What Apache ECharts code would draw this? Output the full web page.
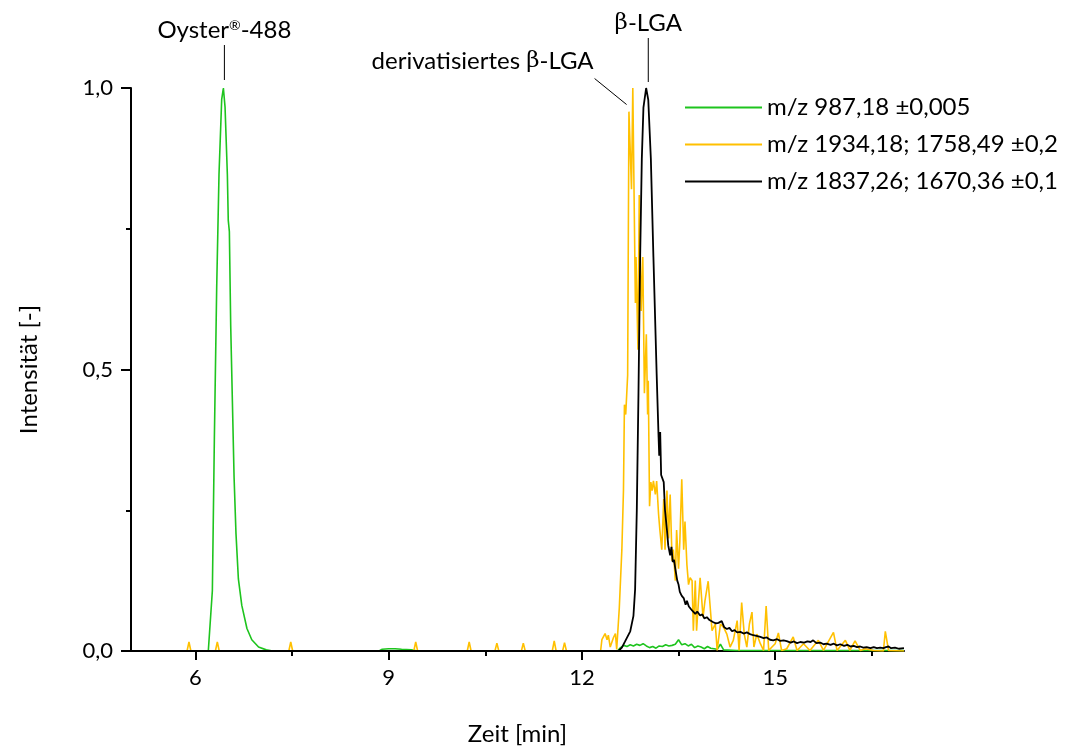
<!DOCTYPE html>
<html>
<head>
<meta charset="utf-8">
<script src="https://cdn.jsdelivr.net/npm/echarts@6/dist/echarts.min.js"></script>
<style>html,body{margin:0;padding:0;background:#fff}#c{width:1065px;height:751px}</style>
</head>
<body>
<div id="c"></div>
<script>
var seriesNames = ['m/z 987,18 \u00b10,005', 'm/z 1934,18; 1758,49 \u00b10,2', 'm/z 1837,26; 1670,36 \u00b10,1'];
var xMajorTicks = [6, 9, 12, 15];
var xMinorTicks = [7.5, 10.5, 13.5, 16.5];

var greenData = [
  [5,0],[6.2,0],[6.263,0.107],[6.294,0.376],[6.33,0.644],[6.366,0.846],[6.408,0.98],[6.434,1.0],
  [6.46,0.966],[6.496,0.846],[6.51,0.765],[6.527,0.745],[6.548,0.577],[6.574,0.443],[6.60,0.309],
  [6.63,0.208],[6.667,0.128],[6.72,0.081],[6.80,0.04],[6.875,0.02],[6.98,0.007],[7.1,0.002],[7.2,0],
  [8.85,0],[8.9,0.003],[9.0,0.004],[9.1,0.004],[9.2,0.003],[9.35,0.002],[9.45,0],
  [12.55,0],[12.6,0.006],[12.65,0.01],[12.7,0.008],[12.75,0.011],[12.8,0.009],[12.85,0.012],[12.9,0.01],
  [12.95,0.013],[13.0,0.009],[13.05,0.006],[13.1,0.008],[13.15,0.005],[13.2,0.009],[13.25,0.008],
  [13.3,0.011],[13.35,0.009],[13.4,0.01],[13.45,0.012],[13.5,0.02],[13.55,0.011],[13.6,0.013],
  [13.65,0.009],[13.7,0.012],[13.75,0.006],[13.8,0.009],[13.85,0.007],[13.9,0.004],[13.95,0.008],
  [14.0,0.005],[14.1,0.003],[14.15,0.012],[14.2,0.002],[14.4,0.001],[17,0.001]
];

var yellowData = [
  [5,0],[5.87,0],[5.9,0.016],[5.93,0],[6.31,0],[6.34,0.016],[6.37,0],[7.45,0],[7.48,0.016],[7.51,0],
  [9.39,0],[9.42,0.016],[9.45,0],[10.22,0],[10.25,0.016],[10.28,0],[10.65,0],[10.68,0.014],[10.71,0],
  [11.06,0],[11.09,0.014],[11.12,0],[11.54,0],[11.57,0.018],[11.6,0],[11.7,0],[11.73,0.015],[11.76,0],
  [12.29,0],[12.31,0.02],[12.36,0.031],[12.39,0.02],[12.41,0.028],[12.44,0.007],[12.49,0.024],
  [12.52,0.031],[12.54,0.003],[12.58,0.076],[12.62,0.18],[12.645,0.285],[12.66,0.4375],[12.68,0.42],
  [12.70,0.42],[12.71,0.49],[12.73,0.958],[12.75,0.96],[12.77,0.82],[12.79,1.0],[12.81,1.0],
  [12.83,0.618],[12.84,0.70],[12.87,0.535],[12.89,0.81],[12.92,0.604],[12.945,0.70],[12.97,0.458],
  [13.00,0.5625],[13.02,0.42],[13.03,0.48],[13.05,0.257],[13.07,0.30],[13.09,0.285],[13.11,0.302],
  [13.14,0.278],[13.16,0.302],[13.19,0.243],[13.21,0.215],[13.24,0.18],[13.27,0.27],[13.29,0.18],
  [13.32,0.285],[13.345,0.20],[13.37,0.278],[13.40,0.16],[13.42,0.18],[13.45,0.125],[13.47,0.215],
  [13.50,0.146],[13.52,0.194],[13.55,0.305],[13.58,0.18],[13.60,0.23],[13.63,0.153],[13.655,0.118],
  [13.68,0.13],[13.71,0.125],[13.73,0.036],[13.76,0.125],[13.78,0.036],[13.81,0.09],[13.835,0.13],
  [13.88,0.06],[13.91,0.089],[13.96,0.124],[14.02,0.036],[14.07,0.048],[14.10,0.001],[14.15,0.048],
  [14.20,0.042],[14.25,0.03],[14.30,0.007],[14.35,0.019],[14.41,0.054],[14.44,0.001],[14.48,0.086],
  [14.52,0.03],[14.56,0.007],[14.60,0.048],[14.64,0.069],[14.67,0.007],[14.715,0.03],[14.77,0.013],
  [14.82,0.001],[14.86,0.08],[14.90,0.001],[14.95,0.007],[15.00,0.013],[15.05,0.032],[15.10,0.001],
  [15.18,0.004],[15.28,0.025],[15.34,0.001],[15.44,0.013],[15.54,0.001],[15.67,0.019],[15.75,0.001],
  [15.905,0.033],[15.96,0.001],[16.09,0.019],[16.16,0.001],[16.24,0.018],[16.32,0.001],[16.40,0.004],
  [16.53,0.001],[16.68,0],[16.71,0.035],[16.76,0.001],[17,0]
];

var blackData = [
  [5,0],[12.567,0],[12.62,0.006],[12.67,0.017],[12.75,0.035],[12.80,0.0625],[12.826,0.11],[12.852,0.25],
  [12.878,0.458],[12.904,0.70],[12.93,0.875],[12.955,0.965],[12.997,1.0],[13.03,0.979],[13.07,0.875],
  [13.11,0.70],[13.16,0.493],[13.19,0.38],[13.20,0.347],[13.215,0.389],[13.23,0.3125],[13.27,0.30],
  [13.29,0.25],[13.32,0.215],[13.34,0.1875],[13.37,0.17],[13.39,0.185],[13.41,0.158],[13.43,0.162],
  [13.45,0.146],[13.48,0.125],[13.50,0.118],[13.52,0.105],[13.55,0.098],[13.58,0.094],[13.61,0.082],
  [13.63,0.089],[13.66,0.079],[13.68,0.077],[13.71,0.072],[13.73,0.069],[13.76,0.066],[13.79,0.070],
  [13.835,0.063],[13.87,0.065],[13.90,0.058],[13.94,0.060],[13.98,0.055],[14.01,0.057],[14.04,0.051],
  [14.08,0.049],[14.12,0.050],[14.17,0.053],[14.21,0.042],[14.25,0.039],[14.29,0.041],[14.33,0.035],
  [14.37,0.037],[14.41,0.033],[14.46,0.034],[14.51,0.031],[14.56,0.033],[14.61,0.030],[14.66,0.028],
  [14.71,0.027],[14.77,0.025],[14.82,0.023],[14.87,0.024],[14.92,0.020],[14.97,0.019],[15.03,0.021],
  [15.08,0.018],[15.13,0.019],[15.18,0.0176],[15.24,0.015],[15.29,0.017],[15.34,0.014],[15.39,0.016],
  [15.45,0.015],[15.50,0.017],[15.55,0.016],[15.59,0.019],[15.64,0.014],[15.70,0.015],[15.75,0.012],
  [15.80,0.013],[15.86,0.011],[15.91,0.013],[15.96,0.010],[16.01,0.012],[16.07,0.009],[16.12,0.011],
  [16.17,0.008],[16.22,0.009],[16.27,0.007],[16.32,0.008],[16.37,0.006],[16.42,0.007],[16.48,0.005],
  [16.53,0.007],[16.58,0.005],[16.63,0.006],[16.68,0.005],[16.72,0.007],[16.76,0.008],[16.80,0.005],
  [16.86,0.006],[16.92,0.004],[17,0.005]
];

var FONT = 'Lato';
var chart = echarts.init(document.getElementById('c'), null, {renderer: 'canvas'});

var GRID = {left: 131, top: 88, width: 773, height: 569};

var option = {
  backgroundColor: '#ffffff',
  animation: false,
  textStyle: {fontFamily: FONT},
  grid: GRID,
  legend: {
    orient: 'vertical',
    left: 680, top: 89,
    itemWidth: 77, itemHeight: 2, itemGap: 10,
    icon: 'rect',
    textStyle: {fontFamily: FONT, fontSize: 24, color: '#000', lineHeight: 27},
    data: seriesNames
  },
  xAxis: [{
    type: 'value', min: 5, max: 17,
    name: 'Zeit [min]', nameLocation: 'middle', nameGap: 71,
    nameTextStyle: {fontFamily: FONT, fontSize: 24, color: '#000'},
    axisLine: {show: true, onZero: false, lineStyle: {color: '#000', width: 2}},
    axisTick: {show: true, length: 9, lineStyle: {color: '#000', width: 2}, customValues: xMajorTicks},
    axisLabel: {fontFamily: FONT, fontSize: 22, color: '#000', margin: 16, customValues: xMajorTicks},
    splitLine: {show: false}
  }, {
    type: 'value', min: 5, max: 17, position: 'bottom',
    axisLine: {show: false},
    axisTick: {show: true, length: 5, lineStyle: {color: '#000', width: 2}, customValues: xMinorTicks},
    axisLabel: {show: false},
    splitLine: {show: false}
  }],
  yAxis: {
    type: 'value', min: 0, max: 1, interval: 0.5,
    name: 'Intensit\u00e4t [-]', nameLocation: 'middle', nameGap: 90,
    nameTextStyle: {fontFamily: FONT, fontSize: 24, color: '#000'},
    axisLine: {show: true, lineStyle: {color: '#000', width: 2}},
    axisTick: {show: true, length: 10, lineStyle: {color: '#000', width: 2}},
    minorTick: {show: true, splitNumber: 2, length: 5, lineStyle: {color: '#000', width: 2}},
    axisLabel: {fontFamily: FONT, fontSize: 22, color: '#000', margin: 18,
      formatter: function (v) { return v.toFixed(1).replace('.', ','); }},
    splitLine: {show: false}
  },
  series: [
    {name: seriesNames[0], type: 'line', data: greenData, showSymbol: false, symbol: 'none',
     lineStyle: {color: '#1ec41e', width: 1.6}, itemStyle: {color: '#1ec41e'}, z: 2},
    {name: seriesNames[1], type: 'line', data: yellowData, showSymbol: false, symbol: 'none',
     lineStyle: {color: '#ffc000', width: 1.6}, itemStyle: {color: '#ffc000'}, z: 3},
    {name: seriesNames[2], type: 'line', data: blackData, showSymbol: false, symbol: 'none',
     lineStyle: {color: '#000000', width: 1.8}, itemStyle: {color: '#000000'}, z: 4}
  ]
};
chart.setOption(option);

// annotations anchored to peak positions
var pOy = chart.convertToPixel({xAxisIndex: 0, yAxisIndex: 0}, [6.45, 1.0]);
var pB = chart.convertToPixel({xAxisIndex: 0, yAxisIndex: 0}, [13.03, 1.0]);
var pD = chart.convertToPixel({xAxisIndex: 0, yAxisIndex: 0}, [12.74, 0.96]);
var rich = {
  b: {fontFamily: 'DejaVu Serif', fontSize: 23, fill: '#000'},
  t: {fontFamily: FONT, fontSize: 24, fill: '#000'},
  r: {fontFamily: FONT, fontSize: 14, fill: '#000', verticalAlign: 'top', padding: [0, 0, 8, 0]}
};
chart.setOption({
  graphic: [
    {type: 'line', shape: {x1: pOy[0], y1: pOy[1] - 8, x2: pOy[0], y2: pOy[1] - 43}, style: {stroke: '#000', lineWidth: 1}},
    {type: 'text', x: pOy[0], y: pOy[1] - 58, style: {text: '{t|Oyster}{r|\u00ae}{t|-488}', rich: rich, align: 'center', verticalAlign: 'middle'}},
    {type: 'line', shape: {x1: pB[0], y1: pB[1] - 6, x2: pB[0], y2: pB[1] - 50}, style: {stroke: '#000', lineWidth: 1}},
    {type: 'text', x: pB[0], y: pB[1] - 65, style: {text: '{b|\u03b2}{t|-LGA}', rich: rich, align: 'center', verticalAlign: 'middle'}},
    {type: 'line', shape: {x1: pD[0] - 3, y1: pD[1] - 6, x2: pD[0] - 35, y2: pD[1] - 32}, style: {stroke: '#000', lineWidth: 1}},
    {type: 'text', x: pD[0] - 36, y: pD[1] - 49, style: {text: '{t|derivatisiertes }{b|\u03b2}{t|-LGA}', rich: rich, align: 'right', verticalAlign: 'middle'}}
  ]
});
</script>
</body>
</html>
